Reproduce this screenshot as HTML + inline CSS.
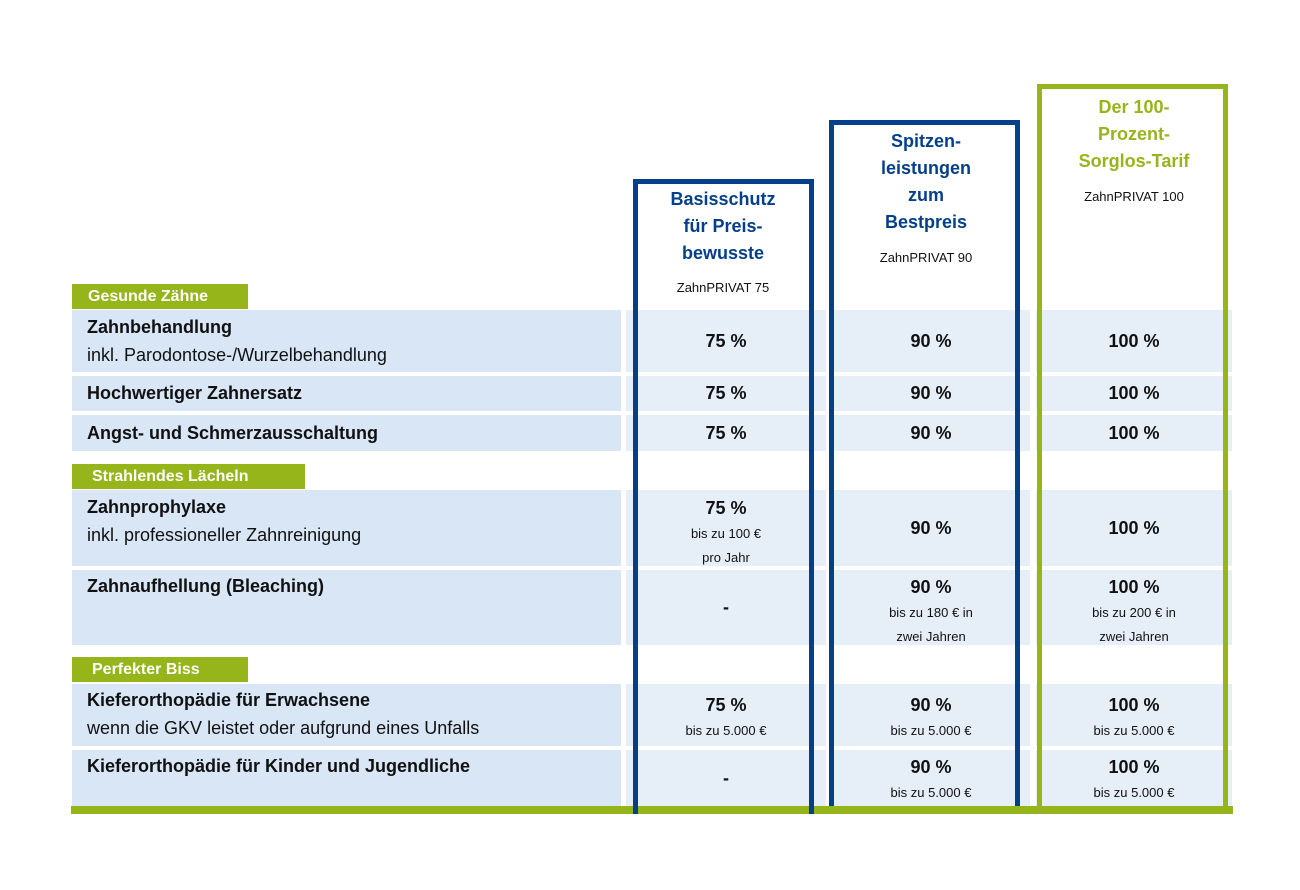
<!DOCTYPE html>
<html><head><meta charset="utf-8"><style>
body{margin:0;background:#fff;width:1300px;height:890px;position:relative;overflow:hidden;font-family:"Liberation Sans","DejaVu Sans",sans-serif;color:#111}
div{position:absolute;box-sizing:border-box}
.l{background:#d8e6f6;left:72px;width:549px;padding-left:15px}
.v{background:#e6eef8;text-align:center;font-weight:bold;font-size:18px}
.c1{left:626px;width:200px}.c2{left:832px;width:198px}.c3{left:1036px;width:196px}
.b{font-weight:bold;font-size:18px}
.n{font-size:18px}
.s{font-weight:normal;font-size:13px;line-height:19px}
.h{background:#95b51a;color:#fff;font-weight:bold;font-size:16px;height:25px;line-height:25px;padding-left:16px;left:72px}
.box{border:5px solid #034089;border-bottom:none}
.t{color:#034089;font-weight:bold;font-size:18px;text-align:center;line-height:27px}
.z{font-size:13px;text-align:center;color:#111}
</style></head><body>
<div class="h" style="top:284px;width:176px">Gesunde Zähne</div>
<div class="h" style="top:464px;width:233px;padding-left:20px">Strahlendes Lächeln</div>
<div class="h" style="top:657px;width:176px;padding-left:20px">Perfekter Biss</div>

<div class="l" style="top:310px;height:62px;padding-top:4px;line-height:27px"><span class="b">Zahnbehandlung</span><br><span class="n">inkl. Parodontose-/Wurzelbehandlung</span></div>
<div class="l b" style="top:376px;height:35px;line-height:35px">Hochwertiger Zahnersatz</div>
<div class="l b" style="top:415px;height:36px;line-height:36px">Angst- und Schmerzausschaltung</div>
<div class="l" style="top:490px;height:76px;padding-top:4px;line-height:27px"><span class="b">Zahnprophylaxe</span><br><span class="n">inkl. professioneller Zahnreinigung</span></div>
<div class="l b" style="top:570px;height:75px;padding-top:3px;line-height:27px">Zahnaufhellung (Bleaching)</div>
<div class="l" style="top:684px;height:62px;padding-top:3px;line-height:27px"><span class="b">Kieferorthopädie für Erwachsene</span><br><span class="n">wenn die GKV leistet oder aufgrund eines Unfalls</span></div>
<div class="l b" style="top:750px;height:56px;padding-top:3px;line-height:27px">Kieferorthopädie für Kinder und Jugendliche</div>

<div class="v c1" style="top:310px;height:62px;line-height:62px">75 %</div>
<div class="v c2" style="top:310px;height:62px;line-height:62px">90 %</div>
<div class="v c3" style="top:310px;height:62px;line-height:62px">100 %</div>
<div class="v c1" style="top:376px;height:35px;line-height:35px">75 %</div>
<div class="v c2" style="top:376px;height:35px;line-height:35px">90 %</div>
<div class="v c3" style="top:376px;height:35px;line-height:35px">100 %</div>
<div class="v c1" style="top:415px;height:36px;line-height:36px">75 %</div>
<div class="v c2" style="top:415px;height:36px;line-height:36px">90 %</div>
<div class="v c3" style="top:415px;height:36px;line-height:36px">100 %</div>
<div class="v c1" style="top:490px;height:76px;padding-top:6px;line-height:24px">75 %<br><span class="s">bis zu 100 €<br>pro Jahr</span></div>
<div class="v c2" style="top:490px;height:76px;line-height:76px">90 %</div>
<div class="v c3" style="top:490px;height:76px;line-height:76px">100 %</div>
<div class="v c1" style="top:570px;height:75px;line-height:75px">-</div>
<div class="v c2" style="top:570px;height:75px;padding-top:5px;line-height:24px">90 %<br><span class="s">bis zu 180 € in<br>zwei Jahren</span></div>
<div class="v c3" style="top:570px;height:75px;padding-top:5px;line-height:24px">100 %<br><span class="s">bis zu 200 € in<br>zwei Jahren</span></div>
<div class="v c1" style="top:684px;height:62px;padding-top:9px;line-height:24px">75 %<br><span class="s">bis zu 5.000 €</span></div>
<div class="v c2" style="top:684px;height:62px;padding-top:9px;line-height:24px">90 %<br><span class="s">bis zu 5.000 €</span></div>
<div class="v c3" style="top:684px;height:62px;padding-top:9px;line-height:24px">100 %<br><span class="s">bis zu 5.000 €</span></div>
<div class="v c1" style="top:750px;height:56px;line-height:56px">-</div>
<div class="v c2" style="top:750px;height:56px;padding-top:5px;line-height:24px">90 %<br><span class="s">bis zu 5.000 €</span></div>
<div class="v c3" style="top:750px;height:56px;padding-top:5px;line-height:24px">100 %<br><span class="s">bis zu 5.000 €</span></div>

<div style="left:71px;top:806px;width:1162px;height:8px;background:#95b51a"></div>

<div class="box" style="left:633px;top:179px;width:181px;height:635px"></div>
<div class="box" style="left:829px;top:120px;width:191px;height:686px"></div>
<div class="box" style="left:1037px;top:84px;width:191px;height:722px;border-color:#95b51a"></div>

<div class="t" style="left:640px;top:186px;width:166px">Basisschutz<br>für Preis-<br>bewusste</div>
<div class="z" style="left:640px;top:280px;width:166px">ZahnPRIVAT 75</div>
<div class="t" style="left:836px;top:128px;width:180px">Spitzen-<br>leistungen<br>zum<br>Bestpreis</div>
<div class="z" style="left:836px;top:250px;width:180px">ZahnPRIVAT 90</div>
<div class="t" style="left:1044px;top:94px;width:180px;color:#95b51a">Der 100-<br>Prozent-<br>Sorglos-Tarif</div>
<div class="z" style="left:1044px;top:189px;width:180px">ZahnPRIVAT 100</div>
</body></html>
